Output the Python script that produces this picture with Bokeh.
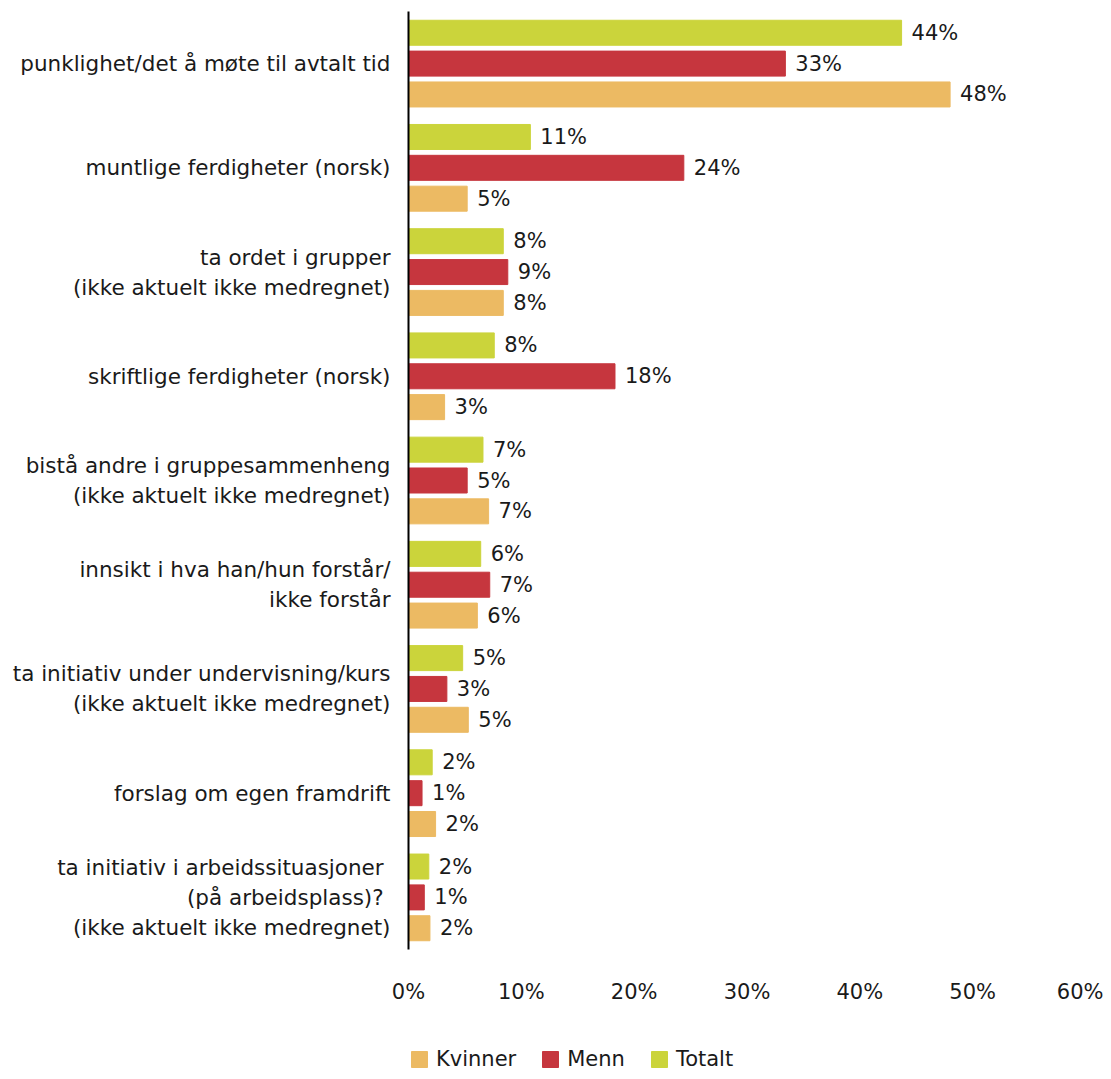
from bokeh.plotting import figure
from bokeh.models import ColumnDataSource, FactorRange, Range1d, Legend, LegendItem, FixedTicker
from bokeh.layouts import column
from bokeh.transform import dodge
from bokeh.core.properties import value
from bokeh.embed import file_html
from bokeh.resources import INLINE

categories = [
    "punklighet/det å møte til avtalt tid",
    "muntlige ferdigheter (norsk)",
    "ta ordet i grupper\n(ikke aktuelt ikke medregnet)",
    "skriftlige ferdigheter (norsk)",
    "bistå andre i gruppesammenheng\n(ikke aktuelt ikke medregnet)",
    "innsikt i hva han/hun forstår/\nikke forstår",
    "ta initiativ under undervisning/kurs\n(ikke aktuelt ikke medregnet)",
    "forslag om egen framdrift",
    "ta initiativ i arbeidssituasjoner \n(på arbeidsplass)? \n(ikke aktuelt ikke medregnet)",
]
totalt = [43.7, 10.8, 8.4, 7.6, 6.6, 6.4, 4.8, 2.1, 1.8]
menn = [33.4, 24.4, 8.8, 18.3, 5.2, 7.2, 3.4, 1.2, 1.4]
kvinner = [48.0, 5.2, 8.4, 3.2, 7.1, 6.1, 5.3, 2.4, 1.9]
x_ticks = [0, 10, 20, 30, 40, 50, 60]
series_names = ["Kvinner", "Menn", "Totalt"]

C_TOT = "#CBD43B"
C_MENN = "#C6363E"
C_KV = "#ECBA63"
FONT = "DejaVu Sans"
TXT = "#1a1a1a"
FS = "21px"

src = ColumnDataSource(dict(
    cat=categories,
    totalt=totalt, menn=menn, kvinner=kvinner,
    tl=[f"{round(v)}%" for v in totalt],
    ml=[f"{round(v)}%" for v in menn],
    kl=[f"{round(v)}%" for v in kvinner],
))

p = figure(
    width=1103, height=1020,
    y_range=FactorRange(factors=list(reversed(categories)), range_padding=0),
    x_range=Range1d(0, 60),
    output_backend="svg", toolbar_location=None,
    min_border_left=408, min_border_right=18, min_border_top=11, min_border_bottom=71,
)
p.outline_line_color = None
p.xgrid.visible = False
p.ygrid.visible = False

off = 0.296
h = 0.24
r_t = p.hbar(y=dodge("cat", off, range=p.y_range), right="totalt", left=0, height=h,
             color=C_TOT, source=src)
r_m = p.hbar(y=dodge("cat", 0, range=p.y_range), right="menn", left=0, height=h,
             color=C_MENN, source=src)
r_k = p.hbar(y=dodge("cat", -off, range=p.y_range), right="kvinner", left=0, height=h,
             color=C_KV, source=src)

for field, lab, o in [("totalt", "tl", off), ("menn", "ml", 0), ("kvinner", "kl", -off)]:
    p.text(x=field, y=dodge("cat", o, range=p.y_range), text=lab, source=src,
           x_offset=10, text_baseline="middle", text_align="left",
           text_font=value(FONT), text_font_size=FS, text_color=TXT)

# y axis
ya = p.yaxis[0]
ya.axis_line_color = "black"
ya.axis_line_width = 2
ya.major_tick_line_color = None
ya.minor_tick_line_color = None
ya.major_tick_out = 0
ya.major_label_standoff = 18
ya.major_label_text_font = FONT
ya.major_label_text_font_size = "21.5px"
ya.major_label_text_color = TXT

# x axis
xa = p.xaxis[0]
xa.ticker = FixedTicker(ticks=x_ticks)
xa.major_label_overrides = {t: f"{t}%" for t in x_ticks}
xa.axis_line_color = None
xa.major_tick_line_color = None
xa.minor_tick_line_color = None
xa.major_tick_out = 0
xa.major_label_standoff = 30
xa.major_label_text_font = FONT
xa.major_label_text_font_size = FS
xa.major_label_text_color = TXT

# legend in its own strip below the chart (its frame aligns with the chart's frame)
lg = figure(width=1103, height=51, output_backend="svg", toolbar_location=None,
            x_axis_location=None, y_axis_location=None, min_border=0,
            x_range=Range1d(0, 1), y_range=Range1d(0, 1))
lg.outline_line_color = None
lg.xgrid.visible = False
lg.ygrid.visible = False
swatch = ColumnDataSource(dict(y=[-5], left=[-3], right=[-2]))
lk = lg.hbar(y="y", left="left", right="right", height=0.5, color=C_KV, source=swatch)
lm = lg.hbar(y="y", left="left", right="right", height=0.5, color=C_MENN, source=swatch)
lt = lg.hbar(y="y", left="left", right="right", height=0.5, color=C_TOT, source=swatch)

legend = Legend(
    items=[LegendItem(label=series_names[0], renderers=[lk]),
           LegendItem(label=series_names[1], renderers=[lm]),
           LegendItem(label=series_names[2], renderers=[lt])],
    orientation="horizontal", location=(1, 0),
    glyph_width=20, glyph_height=20, label_height=20, label_standoff=7, spacing=24,
    padding=0, margin=0, border_line_color=None, background_fill_alpha=0,
    label_text_font=FONT, label_text_font_size=FS, label_text_color=TXT,
)
lg.add_layout(legend)

layout = column(p, lg, spacing=0)
open("out.html", "w").write(file_html(layout, INLINE))
